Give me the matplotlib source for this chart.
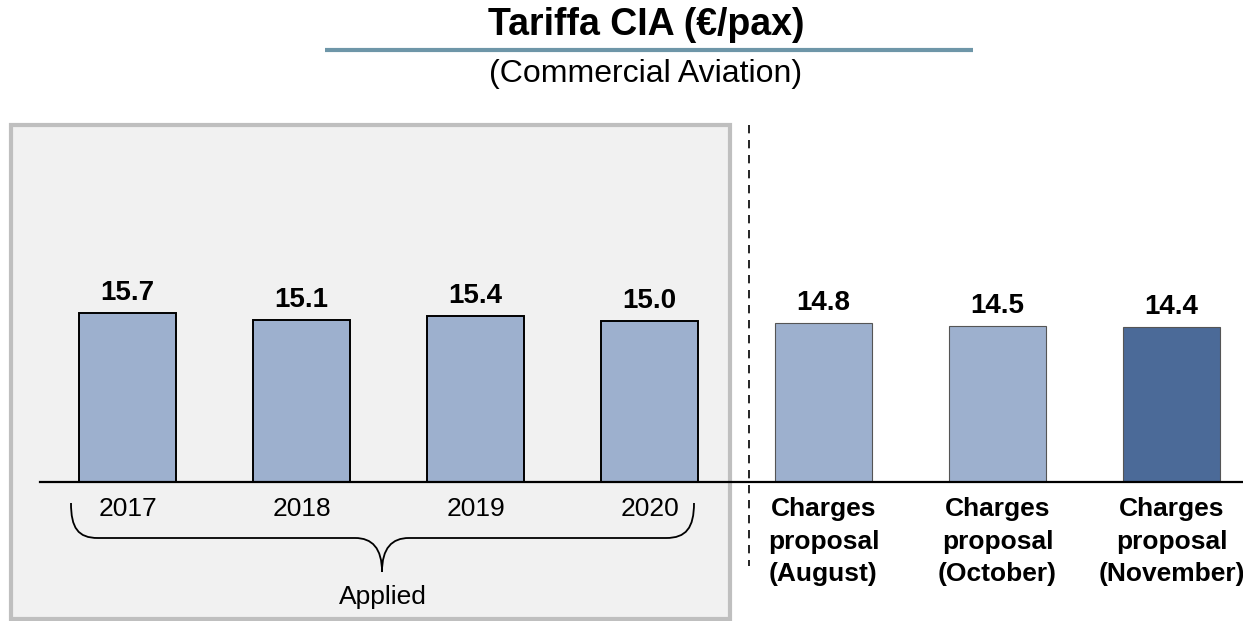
import matplotlib
matplotlib.use("Agg")
import matplotlib.pyplot as plt
from matplotlib.path import Path
from matplotlib.patches import PathPatch, Rectangle

plt.rcParams['font.family'] = ['Liberation Sans', 'DejaVu Sans']

# data
categories = ['2017', '2018', '2019', '2020',
              'Charges\nproposal\n(August)',
              'Charges\nproposal\n(October)',
              'Charges\nproposal\n(November)']
values = [15.7, 15.1, 15.4, 15.0, 14.8, 14.5, 14.4]
applied_count = 4
title = 'Tariffa CIA (€/pax)'
subtitle = '(Commercial Aviation)'
group_label = 'Applied'

light = '#9DB0CE'
dark = '#4B6A98'
colors = [light] * 6 + [dark]
edges = ['black'] * 4 + ['#555555'] * 3
edge_w = [1.4] * 4 + [0.8] * 3

W, H = 1243, 621
fig = plt.figure(figsize=(W / 100, H / 100), dpi=100)

# overlay in pixel coords for the decorations
deco = fig.add_axes([0, 0, 1, 1], zorder=0)
deco.set_xlim(0, W)
deco.set_ylim(H, 0)
deco.axis('off')

# grey "applied" box
deco.add_patch(Rectangle((11, 125), 719, 494, facecolor='#F1F1F1',
                         edgecolor='#BFBFBF', linewidth=3))
# dashed separator
deco.plot([749, 749], [125, 566], color='black', lw=1.2, ls=(0, (5, 4)))
# title underline
deco.plot([325, 973], [50, 50], color='#6E96A8', lw=3, solid_capstyle='butt')

# curly brace under the years
verts = [(71, 503), (71, 528), (78, 538), (98, 538),
         (355, 538),
         (372, 538), (382, 548), (382, 572),
         (382, 548), (392, 538), (409, 538),
         (666, 538),
         (686, 538), (694, 528), (694, 503)]
codes = [Path.MOVETO, Path.CURVE4, Path.CURVE4, Path.CURVE4,
         Path.LINETO,
         Path.CURVE4, Path.CURVE4, Path.CURVE4,
         Path.CURVE4, Path.CURVE4, Path.CURVE4,
         Path.LINETO,
         Path.CURVE4, Path.CURVE4, Path.CURVE4]
deco.add_patch(PathPatch(Path(verts, codes), fill=False, lw=1.3, edgecolor='black'))
deco.text(383, 597, group_label, ha='center', va='center', fontsize=19)

# titles
fig.text(646 / W, 1 - 25 / H, title, ha='center', va='center',
         fontsize=27, fontweight='bold')
fig.text(646 / W, 1 - 74 / H, subtitle, ha='center', va='center', fontsize=23)

# main bar axes
base_px = 482
top_px = 100
px_per_unit = 10.76
ax = fig.add_axes([40 / W, (H - base_px) / H, 1203 / W, (base_px - top_px) / H], zorder=1)
ax.patch.set_alpha(0)
x = list(range(len(values)))
bars = ax.bar(x, values, width=0.557, color=colors, edgecolor=edges, linewidth=edge_w)
ax.set_ylim(0, (base_px - top_px) / px_per_unit)
ax.set_xlim(-0.503, 6.411)

for rect, v in zip(bars, values):
    ax.annotate(f'{v:.1f}', (rect.get_x() + rect.get_width() / 2, v),
                xytext=(0, 5), textcoords='offset points',
                ha='center', va='bottom', fontsize=20, fontweight='bold')

ax.set_xticks(x)
ax.set_xticklabels(categories, fontsize=19, linespacing=1.45)
for i, lab in enumerate(ax.get_xticklabels()):
    if i >= applied_count:
        lab.set_fontweight('bold')
ax.tick_params(axis='x', length=0, pad=11)
ax.set_yticks([])
for s in ['top', 'left', 'right']:
    ax.spines[s].set_visible(False)
ax.spines['bottom'].set_linewidth(1.6)

fig.savefig('out.png', dpi=100)
